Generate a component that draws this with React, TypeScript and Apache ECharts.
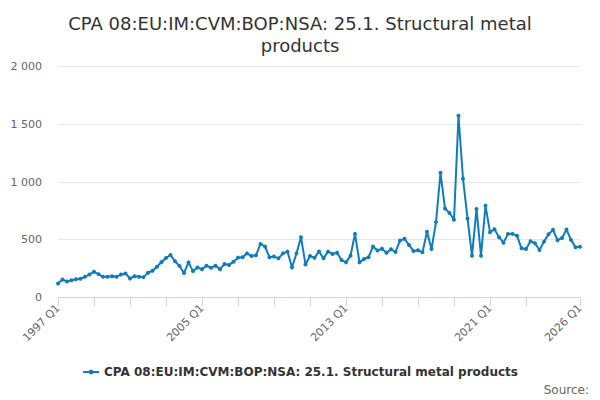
import React, { useEffect, useRef } from "react";
import * as echarts from "echarts";

const seriesName = "CPA 08:EU:IM:CVM:BOP:NSA: 25.1. Structural metal products";
const titleText = "CPA 08:EU:IM:CVM:BOP:NSA: 25.1. Structural metal\nproducts";
const startYear = 1997;
const endYear = 2026;

const values: number[] = [
  119, 154, 137, 148, 157, 160, 178, 198, 221, 201,
  178, 178, 183, 178, 198, 207, 163, 183, 178, 175,
  212, 230, 265, 306, 341, 367, 312, 271, 210, 303,
  227, 259, 244, 274, 256, 274, 244, 288, 280, 309,
  344, 347, 381, 358, 364, 463, 440, 347, 353, 338,
  381, 396, 259, 381, 521, 285, 358, 342, 398, 338,
  396, 376, 387, 323, 303, 361, 550, 303, 332, 347,
  440, 405, 422, 387, 416, 393, 492, 507, 454, 402,
  408, 390, 568, 418, 652, 1080, 771, 731, 672, 1575,
  1028, 684, 361, 766, 361, 795, 565, 591, 521, 474,
  550, 550, 533, 425, 419, 486, 469, 410, 483, 547,
  585, 495, 515, 588, 498, 434, 439,
];

const categories: string[] = [];
for (let y = startYear; y <= endYear; y++) {
  for (let q = 1; q <= 4; q++) {
    if (y === endYear && q > 1) break;
    categories.push(`${y} Q${q}`);
  }
}

const labelIndices = [0, 32, 64, 96, 116];
const yTicks = { min: 0, max: 2000, interval: 500 };

const FONT = "DejaVu Sans";
const LINE_COLOR = "#0f7cc0";

export default function App() {
  const ref = useRef<HTMLDivElement>(null);
  useEffect(() => {
    if (!ref.current) return;
    const chart = echarts.init(ref.current, null, { renderer: "svg" });
    const last = categories.length - 1;
    chart.setOption({
      animation: false,
      backgroundColor: "#ffffff",
      title: {
        text: titleText,
        left: "center",
        top: 7,
        textStyle: {
          fontFamily: FONT,
          fontSize: 18,
          fontWeight: "normal",
          color: "#333333",
          lineHeight: 22,
        },
      },
      legend: {
        top: 361,
        left: "center",
        itemWidth: 16,
        itemHeight: 6,
        itemGap: 10,
        textStyle: {
          fontFamily: FONT,
          fontSize: 12,
          fontWeight: "bold",
          color: "#333333",
        },
        data: [seriesName],
      },
      graphic: [
        {
          type: "text",
          right: 11,
          top: 384,
          style: {
            text: "Source:",
            fontFamily: FONT,
            fontSize: 12,
            fill: "#666666",
          },
        },
      ],
      grid: {
        left: 58,
        right: 20,
        top: 66.7,
        bottom: 102.7,
      },
      xAxis: {
        type: "category",
        data: categories,
        boundaryGap: false,
        axisLine: { lineStyle: { color: "#ccd6eb" } },
        axisTick: {
          length: 9,
          lineStyle: { color: "#ccd6eb" },
          interval: (i: number) => (i % 8 === 0 && i !== 112) || i === last,
        },
        axisLabel: {
          rotate: 45,
          fontFamily: FONT,
          fontSize: 11,
          color: "#666666",
          margin: 9,
          interval: (i: number) => labelIndices.includes(i),
        },
        splitLine: { show: false },
      },
      yAxis: {
        type: "value",
        min: yTicks.min,
        max: yTicks.max,
        interval: yTicks.interval,
        axisLine: { show: false },
        axisTick: { show: false },
        axisLabel: {
          fontFamily: FONT,
          fontSize: 11,
          color: "#666666",
          margin: 16,
          formatter: (v: number) =>
            String(v).replace(/\B(?=(\d{3})+(?!\d))/g, " "),
        },
        splitLine: { lineStyle: { color: "#e6e6e6" } },
      },
      series: [
        {
          name: seriesName,
          type: "line",
          data: values,
          symbol: "circle",
          symbolSize: 4,
          showAllSymbol: true,
          lineStyle: { color: LINE_COLOR, width: 2 },
          itemStyle: { color: LINE_COLOR },
        },
      ],
    });
    return () => chart.dispose();
  }, []);
  return (
    <div
      ref={ref}
      style={{ position: "fixed", left: 0, top: 0, width: 600, height: 400 }}
    />
  );
}
